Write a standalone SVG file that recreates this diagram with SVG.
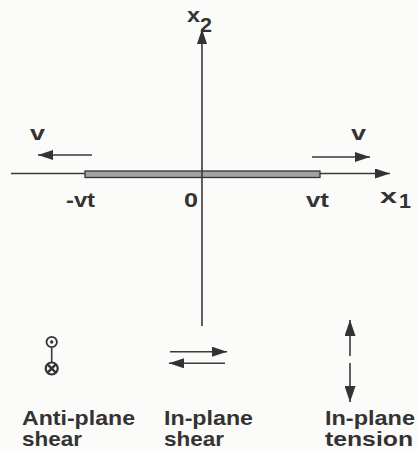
<svg xmlns="http://www.w3.org/2000/svg" width="417" height="451" viewBox="0 0 417 451">
  <style>
    .ln { stroke: #3a3a3a; stroke-width: 1.6; fill: none; }
    .t { font-family: "Liberation Sans", Arial, sans-serif; font-weight: bold; font-size: 21px; fill: #333; }
  </style>
  <defs>
    <marker id="ah" markerUnits="userSpaceOnUse" markerWidth="15" markerHeight="10" refX="15" refY="5" orient="auto">
      <path d="M0,0 L15,5 L0,10 z" fill="#333"/>
    </marker>
    <marker id="ahb" markerUnits="userSpaceOnUse" markerWidth="16" markerHeight="11" refX="16" refY="5.5" orient="auto">
      <path d="M0,0 L16,5.5 L0,11 z" fill="#333"/>
    </marker>
  </defs>
  <rect x="0" y="0" width="417" height="451" fill="#fbfbf9"/>

  <g id="connectors">
    <line id="axis-x1" class="ln" x1="11" y1="173.5" x2="390" y2="173.5" marker-end="url(#ah)"/>
    <line id="v-left" class="ln" x1="92" y1="155" x2="38" y2="155" marker-end="url(#ah)"/>
    <line id="v-right" class="ln" x1="312" y1="157" x2="370" y2="157" marker-end="url(#ah)"/>
  </g>

  <g id="crack">
    <rect x="85" y="171" width="235" height="6.5" fill="#a3a3a3" stroke="#333" stroke-width="1.3"/>
  </g>

  <g id="axis-vertical">
    <line class="ln" x1="202" y1="326" x2="202" y2="29" marker-end="url(#ah)"/>
  </g>

  <g id="axis-labels">
    <text class="t" x="187" y="22" textLength="13" lengthAdjust="spacingAndGlyphs">x</text>
    <text class="t" x="200" y="32" textLength="12" lengthAdjust="spacingAndGlyphs">2</text>
    <text class="t" x="380" y="203" textLength="17" lengthAdjust="spacingAndGlyphs">x</text>
    <text class="t" x="399" y="208" textLength="12" lengthAdjust="spacingAndGlyphs">1</text>
    <text class="t" x="30" y="140" textLength="15" lengthAdjust="spacingAndGlyphs">v</text>
    <text class="t" x="351" y="140" textLength="15" lengthAdjust="spacingAndGlyphs">v</text>
    <text class="t" x="66" y="207" textLength="29" lengthAdjust="spacingAndGlyphs">-vt</text>
    <text class="t" x="184" y="207" textLength="14" lengthAdjust="spacingAndGlyphs">0</text>
    <text class="t" x="306" y="207" textLength="23" lengthAdjust="spacingAndGlyphs">vt</text>
  </g>

  <g id="anti-plane-shear">
    <line class="ln" x1="51.7" y1="347" x2="51.7" y2="362"/>
    <circle cx="51.7" cy="342" r="5.2" fill="#fbfbf9" stroke="#333" stroke-width="1.8"/>
    <circle cx="51.7" cy="342" r="1.7" fill="#333"/>
    <circle cx="51.7" cy="368.5" r="6" fill="#fbfbf9" stroke="#333" stroke-width="2.2"/>
    <path d="M47.8,364.6 L55.6,372.4 M55.6,364.6 L47.8,372.4" stroke="#333" stroke-width="2.4"/>
    <text class="t" x="22" y="425" textLength="113" lengthAdjust="spacingAndGlyphs">Anti-plane</text>
    <text class="t" x="22" y="446" textLength="60" lengthAdjust="spacingAndGlyphs">shear</text>
  </g>

  <g id="in-plane-shear">
    <line class="ln" x1="170" y1="351.7" x2="227" y2="351.7" marker-end="url(#ah)"/>
    <line class="ln" x1="225" y1="363.3" x2="169" y2="363.3" marker-end="url(#ah)"/>
    <text class="t" x="164" y="425" textLength="89" lengthAdjust="spacingAndGlyphs">In-plane</text>
    <text class="t" x="164" y="446" textLength="60" lengthAdjust="spacingAndGlyphs">shear</text>
  </g>

  <g id="in-plane-tension">
    <line class="ln" x1="350" y1="356" x2="350" y2="320" marker-end="url(#ahb)"/>
    <line class="ln" x1="350" y1="363" x2="350" y2="402" marker-end="url(#ahb)"/>
    <text class="t" x="325" y="425" textLength="90" lengthAdjust="spacingAndGlyphs">In-plane</text>
    <text class="t" x="325" y="446" textLength="88" lengthAdjust="spacingAndGlyphs">tension</text>
  </g>
</svg>
